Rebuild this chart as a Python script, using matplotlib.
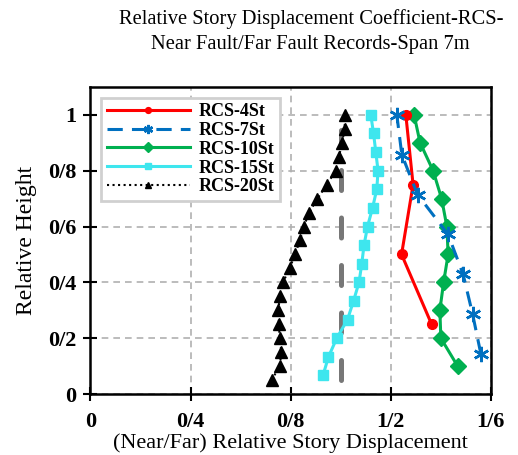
import numpy as np
import matplotlib
matplotlib.use("Agg")
import matplotlib.pyplot as plt

plt.rcParams['font.family'] = ['Liberation Serif', 'DejaVu Serif']

# data
h4 = [0.25, 0.5, 0.75, 1.0]
x4 = [1.363, 1.243, 1.289, 1.26]

h7 = [1/7, 2/7, 3/7, 4/7, 5/7, 6/7, 1.0]
x7 = [1.56, 1.527, 1.489, 1.429, 1.307, 1.244, 1.224]

h10 = [0.1, 0.2, 0.3, 0.4, 0.5, 0.6, 0.7, 0.8, 0.9, 1.0]
x10 = [1.467, 1.40, 1.396, 1.411, 1.429, 1.424, 1.403, 1.369, 1.317, 1.293]

h15 = [k / 15 for k in range(1, 16)]
x15 = [0.929, 0.951, 0.984, 1.027, 1.051, 1.073, 1.084, 1.093,
       1.107, 1.127, 1.144, 1.149, 1.14, 1.131, 1.12]

h20 = [k / 20 for k in range(1, 21)]
x20 = [0.724, 0.756, 0.763, 0.756, 0.753, 0.751, 0.756, 0.769, 0.796, 0.817,
       0.837, 0.853, 0.873, 0.907, 0.944, 0.98, 0.993, 1.005, 1.016, 1.016]

ref_x = [1.0, 1.0]
ref_y = [0.05, 0.945]

xticks = [0, 0.4, 0.8, 1.2, 1.6]
xtick_labels = ['0', '0/4', '0/8', '1/2', '1/6']
yticks = [0, 0.2, 0.4, 0.6, 0.8, 1.0]
ytick_labels = ['0', '0/2', '0/4', '0/6', '0/8', '1']

fig = plt.figure(figsize=(5.18, 4.55), dpi=100)
ax = fig.add_axes([0.1747, 0.134, 0.773, 0.675])

ax.plot(ref_x, ref_y, color='#777777', lw=3.6, dashes=(4.0, 5.5),
        solid_capstyle='round', dash_capstyle='round', zorder=2)

ax.plot(x4, h4, color='#ff0000', lw=2.2, marker='o', ms=7, label='RCS-4St', zorder=4)
ax.plot(x7, h7, color='#0070c0', lw=2.2, dashes=(5, 3), marker=(6, 2, 0), ms=11,
        mew=1.8, label='RCS-7St', zorder=4)
ax.plot(x10, h10, color='#00b050', lw=2.2, marker='D', ms=8.5, label='RCS-10St', zorder=3)
ax.plot(x15, h15, color='#3ee6ee', lw=2.2, marker='s', ms=7, label='RCS-15St', zorder=3)
ax.plot(x20, h20, color='black', lw=1.5, ls=':', marker='^', ms=8, label='RCS-20St', zorder=3)

ax.set_xlim(0, 1.6)
ax.set_ylim(0, 1.1)
ax.set_xticks(xticks)
ax.set_xticklabels(xtick_labels, fontweight='bold', fontsize=16)
ax.set_yticks(yticks)
ax.set_yticklabels(ytick_labels, fontweight='bold', fontsize=16)
ax.tick_params(direction='inout', length=10, width=1.5, pad=5)
ax.tick_params(axis='x', pad=8)

for s in ax.spines.values():
    s.set_linewidth(1.8)

ax.grid(True, ls=(0, (4, 3)), color='#b0b0b0', lw=1.2)
ax.set_axisbelow(True)

ax.set_xlabel('(Near/Far) Relative Story Displacement', fontsize=16, labelpad=1)
ax.set_ylabel('Relative Height', fontsize=17, labelpad=8)
fig.suptitle('Relative Story Displacement Coefficient-RCS-\nNear Fault/Far Fault Records-Span 7m',
             fontsize=14.8, x=0.6, y=0.98, linespacing=1.45)

leg = ax.legend(loc='upper left', prop={'weight': 'bold', 'size': 13},
                fancybox=False, framealpha=1, edgecolor='#d0d0d0',
                borderaxespad=0.6, handlelength=4.6, handletextpad=0.5,
                labelspacing=0.1, borderpad=0.3, markerscale=0.6)
leg.get_frame().set_linewidth(2)

fig.savefig('out.png', dpi=100)
